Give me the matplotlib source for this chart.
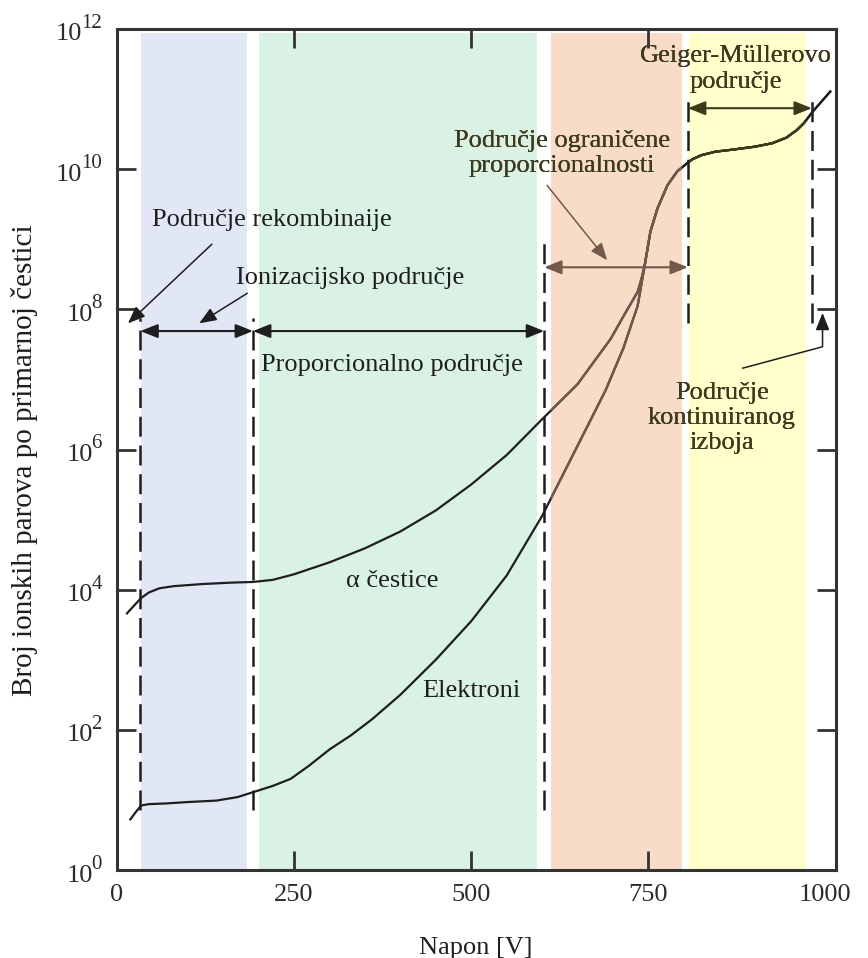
import numpy as np
import matplotlib
matplotlib.use("Agg")
import matplotlib.pyplot as plt

plt.rcParams['font.family'] = ['Liberation Serif', 'DejaVu Serif']
plt.rcParams['mathtext.fontset'] = 'custom'
plt.rcParams['mathtext.rm'] = 'Liberation Serif'

# ---------------- data (voltage in V, values as log10 of ion pairs) ----------------
alpha_voltage = [13, 22, 34, 45, 60, 80, 120, 160, 192, 220, 250, 300, 350, 400,
                 450, 500, 550, 600, 650, 697, 716, 735, 740]
alpha_log10 = [3.65, 3.75, 3.88, 3.96, 4.02, 4.05, 4.08, 4.10, 4.11, 4.14, 4.22,
               4.39, 4.59, 4.83, 5.13, 5.50, 5.92, 6.43, 6.93, 7.58, 7.92, 8.25,
               8.42]
electron_voltage = [18, 26, 34, 45, 70, 100, 140, 170, 192, 220, 245, 270, 300,
                    330, 360, 400, 450, 500, 550, 600, 630, 660, 690, 715, 735]
electron_log10 = [0.71, 0.82, 0.92, 0.94, 0.95, 0.97, 0.99, 1.04, 1.11, 1.20, 1.30,
                  1.48, 1.72, 1.92, 2.15, 2.50, 3.00, 3.55, 4.20, 5.05, 5.65, 6.25,
                  6.85, 7.45, 8.05]
common_voltage = [745, 753, 763, 777, 791, 797, 803, 812, 825, 845, 870, 900, 925,
                  945, 960, 970, 982, 995, 1008]
common_log10 = [8.63, 9.11, 9.44, 9.77, 9.97, 10.02, 10.07, 10.14, 10.20, 10.25,
                10.28, 10.32, 10.37, 10.45, 10.56, 10.66, 10.82, 10.97, 11.12]

band_edges = [(34, 184), (201, 593), (612, 798), (807, 973)]
band_colors = ['#e1e7f5', '#d9f2e4', '#f8dcc8', '#ffffcc']

boundary_voltage = [33, 192, 603, 806, 981]
boundary_low_log10 = [0.85, 0.85, 0.85, 7.8, 7.8]
boundary_high_log10 = [7.88, 7.88, 8.95, 11.03, 11.03]

span_from = [33, 192, 603, 806]
span_to = [192, 603, 806, 981]
span_log10 = [7.69, 7.69, 8.6, 10.87]

x_ticks = [0, 250, 500, 750, 1000]
y_tick_exp = [0, 2, 4, 6, 8, 10, 12]

ink = '#1e1e1e'
brown = '#74584a'
olive = '#3b3b1c'
fs = 19
fs_exp = 15

# ---------------- figure ----------------
fig = plt.figure(figsize=(8.68, 9.58), dpi=100)
ax = fig.add_axes([117 / 868, 88 / 958, 719 / 868, 841 / 958])
ax.set_yscale('log')
ax.set_xlim(0, 1015)
ax.set_ylim(1, 1e12)

bands = []
for (x0, x1), c in zip(band_edges, band_colors):
    bands.append(ax.axvspan(x0, x1, ymin=0, ymax=0.995, color=c, lw=0, zorder=0))
orange_band, yellow_band = bands[2], bands[3]

# dashed boundaries
for xv, lo, hi in zip(boundary_voltage, boundary_low_log10, boundary_high_log10):
    ax.vlines(xv, 10 ** lo, 10 ** hi, colors=ink, lw=1.8,
              linestyles=[(0, (8, 3.5))], zorder=2)


def draw_curves(color, clip=None):
    for xs, ls in ((alpha_voltage + common_voltage, alpha_log10 + common_log10),
                   (electron_voltage + common_voltage, electron_log10 + common_log10)):
        ln, = ax.plot(xs, 10.0 ** np.array(ls), color=color, lw=1.6, zorder=3,
                      solid_joinstyle='round', solid_capstyle='butt')
        if clip is not None:
            ln.set_clip_path(clip)


draw_curves(ink)
draw_curves(brown, orange_band)
draw_curves(olive, yellow_band)

# double arrows
span_colors = [ink, ink, brown, olive]
for a, b, lv, c in zip(span_from, span_to, span_log10, span_colors):
    ax.annotate('', xy=(b, 10 ** lv), xytext=(a, 10 ** lv),
                arrowprops=dict(arrowstyle='<|-|>,head_length=0.7,head_width=0.28',
                                color=c, lw=1.5, shrinkA=0, shrinkB=0,
                                mutation_scale=15), zorder=4)

# region texts
ax.text(49, 10 ** 9.27, 'Područje rekombinaije', fontsize=fs, color=ink,
        ha='left', va='center')
ax.annotate('', xy=(15.5, 10 ** 7.8), xytext=(134, 10 ** 8.93),
            arrowprops=dict(arrowstyle='-|>,head_length=0.7,head_width=0.28',
                            color=ink, lw=1.1, shrinkA=0, shrinkB=0,
                            mutation_scale=15))
ax.text(168, 10 ** 8.45, 'Ionizacijsko područje', fontsize=fs, color=ink,
        ha='left', va='center')
ax.annotate('', xy=(116, 10 ** 7.8), xytext=(184, 10 ** 8.23),
            arrowprops=dict(arrowstyle='-|>,head_length=0.7,head_width=0.28',
                            color=ink, lw=1.1, shrinkA=0, shrinkB=0,
                            mutation_scale=15))
ax.text(203, 10 ** 7.2, 'Proporcionalno područje', fontsize=fs, color=ink,
        ha='left', va='center')
ax.annotate('', xy=(692, 10 ** 8.7), xytext=(607, 10 ** 9.77),
            arrowprops=dict(arrowstyle='-|>,head_length=0.7,head_width=0.28',
                            color=brown, lw=1.1, shrinkA=0, shrinkB=0,
                            mutation_scale=15))
ax.annotate('', xy=(996, 10 ** 7.95), xytext=(883, 10 ** 7.16),
            arrowprops=dict(arrowstyle='-|>,head_length=0.7,head_width=0.28',
                            color=ink, lw=1.1, shrinkA=0, shrinkB=0,
                            mutation_scale=15,
                            connectionstyle='angle,angleA=15,angleB=90,rad=0'))

multi_texts = [
    (628, 10.22, 'Područje ograničene\nproporcionalnosti', 1.2),
    (874, 11.43, 'Geiger-Müllerovo\npodručje', 1.2),
    (854, 6.45, 'Područje\nkontinuiranog\nizboja', 1.15),
]
for color, clip in ((ink, None), (brown, orange_band), (olive, yellow_band)):
    for xv, lv, s, lsp in multi_texts:
        t = ax.text(xv, 10 ** lv, s, fontsize=fs, color=color, ha='center',
                    va='center', linespacing=lsp, multialignment='center', zorder=5)
        if clip is not None:
            t.set_clip_path(clip)

ax.text(388, 10 ** 4.12, 'α čestice', fontsize=fs, color=ink, ha='center', va='center')
ax.text(500, 10 ** 2.55, 'Elektroni', fontsize=fs, color=ink, ha='center', va='center')

# axes styling
ax.set_xticks(x_ticks)
ax.set_xticklabels([str(v) for v in x_ticks])
ax.set_yticks([10.0 ** e for e in y_tick_exp])
ax.set_yticklabels(['' for e in y_tick_exp])
ax.yaxis.set_minor_locator(matplotlib.ticker.NullLocator())
ax.tick_params(axis='both', which='major', direction='in', length=14, width=2,
               color='#333333', top=True, right=True, labelsize=fs, pad=10,
               labelcolor='#2b2b2b')
for tk, v in zip(ax.xaxis.get_major_ticks(), x_ticks):
    if v in (0, 1000):
        tk.tick1line.set_visible(False)
        tk.tick2line.set_visible(False)
for sp in ax.spines.values():
    sp.set_linewidth(2.2)
    sp.set_color('#333333')

# y tick labels "10" with a large exponent (drawn as text, offsets in points)
px = 0.72  # points per pixel at 100 dpi
right_edge = 102 - 117  # pixels relative to left spine
digit_w = 0.5 * fs_exp / px  # pixel width of one exponent digit
for e in y_tick_exp:
    es = str(e)
    ew = len(es) * digit_w
    ax.annotate(es, xy=(0, 10.0 ** e), xycoords=('axes fraction', 'data'),
                xytext=(right_edge * px, 1 * px), textcoords='offset points',
                ha='right', va='baseline', fontsize=fs_exp, color='#2b2b2b',
                annotation_clip=False)
    ax.annotate('10', xy=(0, 10.0 ** e), xycoords=('axes fraction', 'data'),
                xytext=((right_edge - ew + 1) * px, -11.5 * px),
                textcoords='offset points', ha='right', va='baseline',
                fontsize=fs, color='#2b2b2b', annotation_clip=False)

fig.text(25 / 868, 1 - 460 / 958, 'Broj ionskih parova po primarnoj čestici',
         rotation=90, ha='center', va='center', fontsize=21, color=ink)
fig.text(476 / 868, 1 - 948 / 958, 'Napon [V]', ha='center', va='center',
         fontsize=fs, color=ink)

fig.savefig('out.png', dpi=100)
